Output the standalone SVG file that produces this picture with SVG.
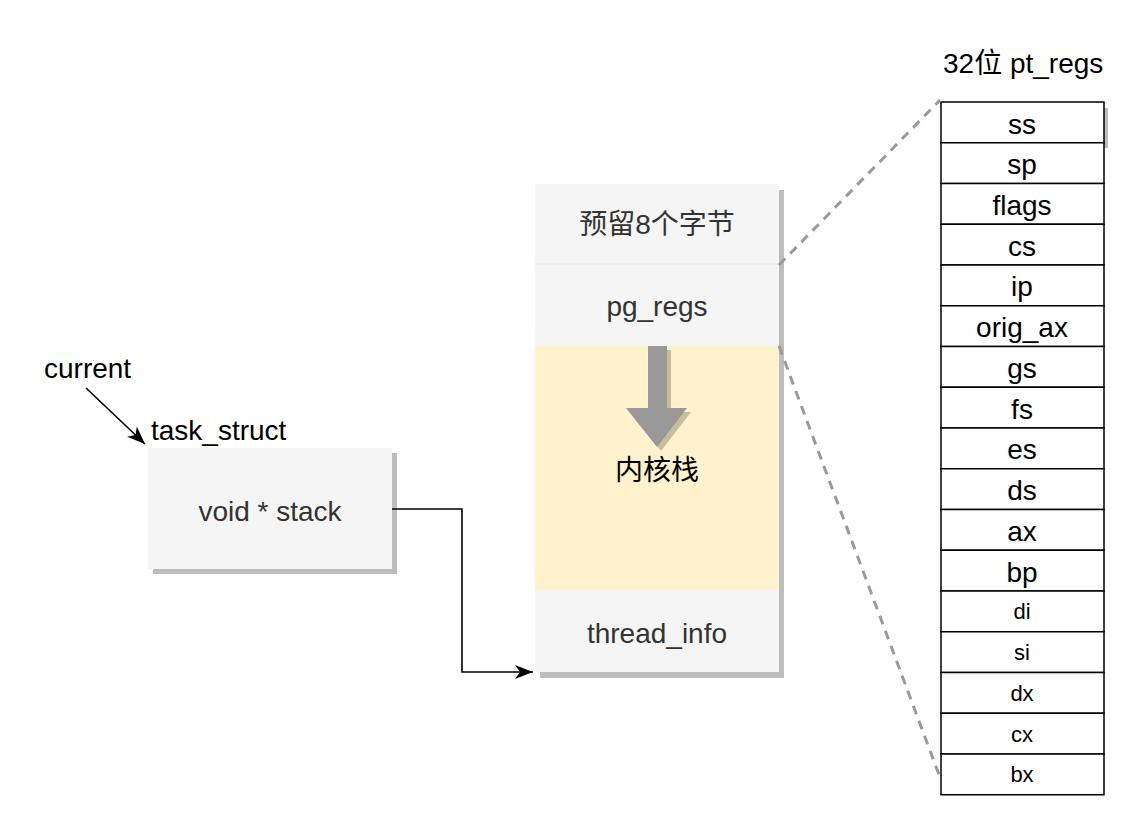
<svg xmlns="http://www.w3.org/2000/svg" width="1128" height="825" viewBox="0 0 1128 825">
<defs>
<style>
.t{font-family:"Liberation Sans","Noto Sans CJK SC",Arial,sans-serif;font-size:28px;fill:#333;text-anchor:middle;dominant-baseline:central}
.k{font-family:"Liberation Sans","Noto Sans CJK SC",Arial,sans-serif;font-size:28px;fill:#000}
.r{font-family:"Liberation Sans",Arial,sans-serif;font-size:28px;fill:#000;text-anchor:middle;dominant-baseline:central}
.rs{font-size:22px}
.cell{fill:#fff;stroke:#000;stroke-width:1.5}
.sh{fill:#bdbdbd}
.dash{stroke:#9a9a9a;stroke-width:3;stroke-dasharray:9 7;fill:none}
</style>
<marker id="ah" markerWidth="18" markerHeight="14" refX="18" refY="7" orient="auto" markerUnits="userSpaceOnUse">
<path d="M0,0 L18,7 L0,14 L5,7 Z" fill="#000"/>
</marker>
</defs>
<rect width="1128" height="825" fill="#fff"/>

<g id="task_struct">
<rect class="sh" x="153" y="453" width="244" height="121"/>
<rect x="148" y="448" width="244" height="121" fill="#f5f5f5"/>
<text class="t" x="270" y="511">void * stack</text>
<text class="k" x="151" y="440">task_struct</text>
</g>

<g id="current">
<text class="k" x="44" y="378">current</text>
</g>

<g id="stack">
<rect class="sh" x="540" y="190" width="244" height="488"/>
<rect x="535" y="184" width="244" height="80" fill="#f5f5f5"/>
<rect x="535" y="264" width="244" height="82" fill="#f5f5f5"/>
<line x1="535" y1="264" x2="779" y2="264" stroke="#e6e6e6" stroke-width="1"/>
<rect x="535" y="346" width="244" height="244" fill="#fff2cc"/>
<rect x="535" y="590" width="244" height="82" fill="#f5f5f5"/>
<text class="t" x="657" y="224">预留8个字节</text>
<text class="t" x="657" y="306">pg_regs</text>
<text class="t" x="657" y="633">thread_info</text>
<path d="M652,350 L671,350 L671,412 L691,412 L661,451 L630,412 L652,412 Z" fill="#c9bd9b"/>
<path d="M648,346 L667,346 L667,408 L687,408 L657,447 L626,408 L648,408 Z" fill="#999"/>
<text class="t" x="657" y="470" style="fill:#000">内核栈</text>
</g>

<g id="pt_regs">
<text class="k" x="943" y="73">32位 pt_regs</text>
<rect class="sh" x="1104" y="108" width="4" height="40"/>
<rect class="cell" x="941" y="102" width="163" height="40.75"/>
<rect class="cell" x="941" y="142.75" width="163" height="40.75"/>
<rect class="cell" x="941" y="183.5" width="163" height="40.75"/>
<rect class="cell" x="941" y="224.25" width="163" height="40.75"/>
<rect class="cell" x="941" y="265" width="163" height="40.75"/>
<rect class="cell" x="941" y="305.75" width="163" height="40.75"/>
<rect class="cell" x="941" y="346.5" width="163" height="40.75"/>
<rect class="cell" x="941" y="387.25" width="163" height="40.75"/>
<rect class="cell" x="941" y="428" width="163" height="40.75"/>
<rect class="cell" x="941" y="468.75" width="163" height="40.75"/>
<rect class="cell" x="941" y="509.5" width="163" height="40.75"/>
<rect class="cell" x="941" y="550.25" width="163" height="40.75"/>
<rect class="cell" x="941" y="591" width="163" height="40.75"/>
<rect class="cell" x="941" y="631.75" width="163" height="40.75"/>
<rect class="cell" x="941" y="672.5" width="163" height="40.75"/>
<rect class="cell" x="941" y="713.25" width="163" height="40.75"/>
<rect class="cell" x="941" y="754" width="163" height="40.75"/>
<text class="r" x="1022" y="124">ss</text>
<text class="r" x="1022" y="164">sp</text>
<text class="r" x="1022" y="205">flags</text>
<text class="r" x="1022" y="246">cs</text>
<text class="r" x="1022" y="286">ip</text>
<text class="r" x="1022" y="327">orig_ax</text>
<text class="r" x="1022" y="368">gs</text>
<text class="r" x="1022" y="409">fs</text>
<text class="r" x="1022" y="449">es</text>
<text class="r" x="1022" y="490">ds</text>
<text class="r" x="1022" y="531">ax</text>
<text class="r" x="1022" y="572">bp</text>
<text class="r rs" x="1022" y="611">di</text>
<text class="r rs" x="1022" y="652">si</text>
<text class="r rs" x="1022" y="693">dx</text>
<text class="r rs" x="1022" y="734">cx</text>
<text class="r rs" x="1022" y="774">bx</text>
</g>

<g id="connectors">
<line x1="86" y1="388" x2="145" y2="444" stroke="#000" stroke-width="1.6" marker-end="url(#ah)"/>
<path d="M392,509 L462,509 L462,672 L533,672" fill="none" stroke="#000" stroke-width="1.6" marker-end="url(#ah)"/>
<line class="dash" x1="779" y1="265" x2="940" y2="100"/>
<line class="dash" x1="779" y1="346" x2="941" y2="780"/>
</g>
</svg>
